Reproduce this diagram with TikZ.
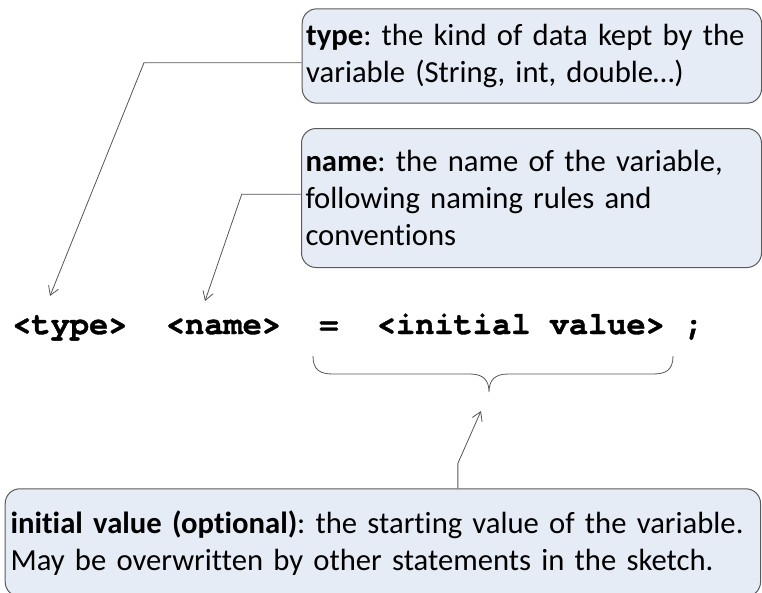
\documentclass[tikz,border=0pt]{standalone}
\usepackage{fontspec}
\setmainfont{Carlito}[Ligatures=CommonOff]
\newfontfamily\codefont{TeX Gyre Cursor}[BoldFeatures={FakeBold=1.2}]
\frenchspacing
\usetikzlibrary{arrows.meta,calc}
\definecolor{notefill}{HTML}{E6ECF6}
\definecolor{noteline}{HTML}{5A5A5A}
\definecolor{wire}{HTML}{555555}

\begin{document}
\begin{tikzpicture}[x=0.75pt,y=-0.75pt,
  note/.style={draw=noteline,fill=notefill,line width=0.75pt,rounded corners=11pt,
    anchor=north west,align=left,inner ysep=0pt,
    font=\fontsize{23}{27.75}\selectfont},
  code/.style={anchor=base west,inner sep=0pt,
    font=\codefont\bfseries\fontsize{24}{28}\selectfont},
  wire/.style={draw=wire,line width=0.6pt},
  tip/.style={-{Straight Barb[length=6.5pt,width=8pt]}}]

\useasboundingbox (0,0) rectangle (762,592);

% the declaration line
\node[code] (typecode) at (12,334) {<type>};
\node[code] (namecode) at (165.6,334) {<name>};
\node[code] (eqcode) at (319,334) {=};
\node[code] (initcode) at (376.6,334) {<initial value>};
\node[code] (semicode) at (683.8,334) {;};

% notes
\node[note,minimum width=344.5pt,minimum height=70.8pt,text width=338.5pt,inner xsep=3pt]
  (typebox) at (301.7,8.3)
  {\textbf{type}: the kind of data kept by the\\variable (String, int, double…)};

\node[note,minimum width=345pt,minimum height=104.25pt,text width=339pt,inner xsep=3pt]
  (namebox) at (301,128)
  {\textbf{name}: the name of the variable,\\following naming rules and\\conventions};

\node[note,minimum width=566.5pt,minimum height=80.8pt,text width=558.5pt,inner xsep=4pt]
  (initbox) at (4.7,488.3)
  {\textbf{initial value (optional)}: the starting value of the variable.\\May be overwritten by other statements in the sketch.};

% brace under the value
\draw[wire] (313,356) .. controls (313,370) and (320,374) .. (333,374) -- (470,374)
  .. controls (483,374) and (489,380) .. (489,392)
  .. controls (489,380) and (495,374) .. (508,374) -- (653,374)
  .. controls (666,374) and (673,370) .. (673,356);

\coordinate (typetip) at (50,296);
\coordinate (nametip) at (205,301);
\coordinate (inittip) at (481,411);

% connectors
\draw[wire,tip] (typebox.west |- 0,62.7) -- (144,62.7) -- (typetip);
\draw[wire,tip] (namebox.west |- 0,194.3) -- (241.7,194.3) -- (nametip);
\draw[wire,tip] ($(initbox.north)+(75,0)$) -- ++(0,-25) -- (inittip);

\end{tikzpicture}
\end{document}
